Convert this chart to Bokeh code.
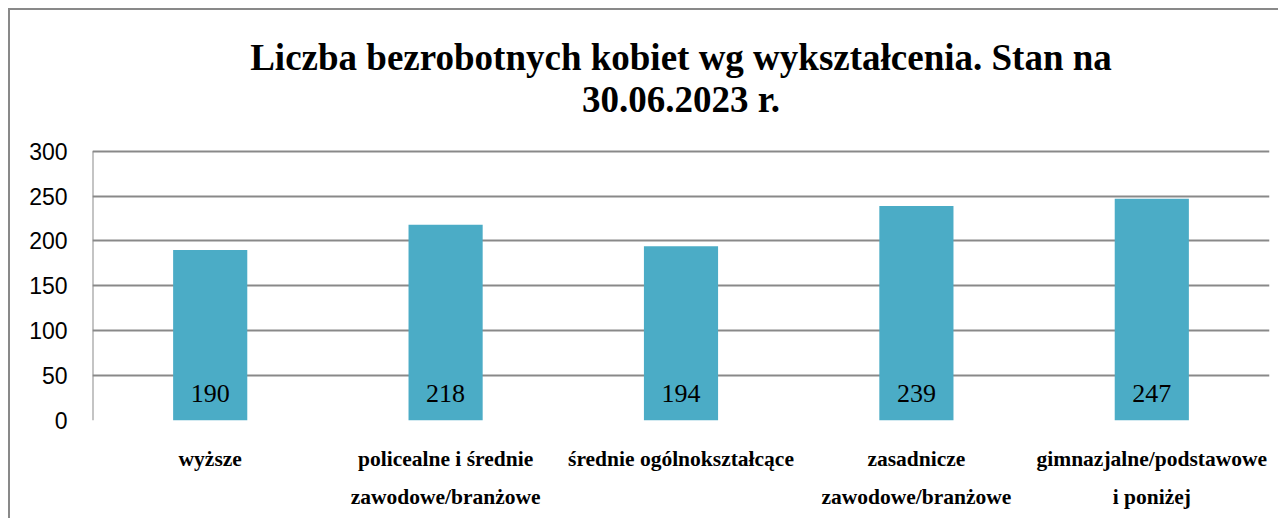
from bokeh.plotting import figure
from bokeh.models import Range1d, FixedTicker, ColumnDataSource
from bokeh.core.properties import value
from bokeh.embed import file_html
from bokeh.resources import INLINE

categories = ["wyższe", "policealne i średnie\nzawodowe/branżowe", "średnie ogólnokształcące",
              "zasadnicze\nzawodowe/branżowe", "gimnazjalne/podstawowe\ni poniżej"]
values = [190, 218, 194, 239, 247]
y_ticks = [0, 50, 100, 150, 200, 250, 300]
title_lines = ["Liczba bezrobotnych kobiet wg wykształcenia. Stan na", "30.06.2023 r."]

GRAY = "#898989"
BAR = "#4BACC6"
Y_MAX = 300
Y_TOP = Y_MAX * 408 / 268   # extra headroom so the title sits inside the frame

xs = [i + 0.5 for i in range(len(categories))]
src = ColumnDataSource(dict(x=xs, top=values, label=[str(v) for v in values]))

p = figure(width=1270, height=510, output_backend="svg", toolbar_location=None,
           x_range=Range1d(0, len(categories)), y_range=Range1d(0, Y_TOP),
           min_border_left=82, min_border_right=11, min_border_top=0, min_border_bottom=100)
p.styles = {"border-left": f"2px solid {GRAY}", "border-top": f"2px solid {GRAY}",
            "margin-left": "8px", "margin-top": "8px"}
p.outline_line_color = None
p.background_fill_color = "white"
p.border_fill_color = "white"

# title (two centred lines)
cx = len(categories) / 2
p.text(x=[cx], y=[Y_MAX], text=[title_lines[0]], y_offset=-94, text_align="center",
       text_baseline="middle", text_font=value("Liberation Serif"), text_font_style="bold",
       text_font_size="37px", text_color="black")
p.text(x=[cx], y=[Y_MAX], text=[title_lines[1]], y_offset=-52, text_align="center",
       text_baseline="middle", text_font=value("Liberation Serif"), text_font_style="bold",
       text_font_size="37px", text_color="black")

# plot-area left edge
p.segment(x0=[0], y0=[0], x1=[0], y1=[Y_MAX], line_color=GRAY, line_width=2)

p.vbar(x="x", top="top", width=0.315, bottom=0, source=src, fill_color=BAR, line_color=None)
p.text(x="x", y=0, text="label", source=src, text_align="center", text_baseline="alphabetic",
       y_offset=-27, text_font=value("Liberation Serif"), text_font_size="26px", text_color="black")

p.xgrid.grid_line_color = None
p.ygrid.ticker = FixedTicker(ticks=y_ticks)
p.ygrid.grid_line_color = GRAY
p.ygrid.grid_line_width = 2

p.yaxis.ticker = FixedTicker(ticks=y_ticks)
p.yaxis.axis_line_color = None
p.yaxis.major_tick_line_color = None
p.yaxis.minor_tick_line_color = None
p.yaxis.major_label_text_font = "Liberation Sans"
p.yaxis.major_label_text_font_size = "23px"
p.yaxis.major_label_text_color = "black"
p.yaxis.major_label_standoff = 19

p.xaxis.ticker = FixedTicker(ticks=xs)
p.xaxis.major_label_overrides = {x: c for x, c in zip(xs, categories)}
p.xaxis.axis_line_color = None
p.xaxis.major_tick_line_color = None
p.xaxis.minor_tick_line_color = None
p.xaxis.major_label_text_font = "Liberation Serif"
p.xaxis.major_label_text_font_style = "bold"
p.xaxis.major_label_text_font_size = "21.5px"
p.xaxis.major_label_text_line_height = 1.6
p.xaxis.major_label_text_color = "black"
p.xaxis.major_label_standoff = 20

open("out.html", "w").write(file_html(p, INLINE))
